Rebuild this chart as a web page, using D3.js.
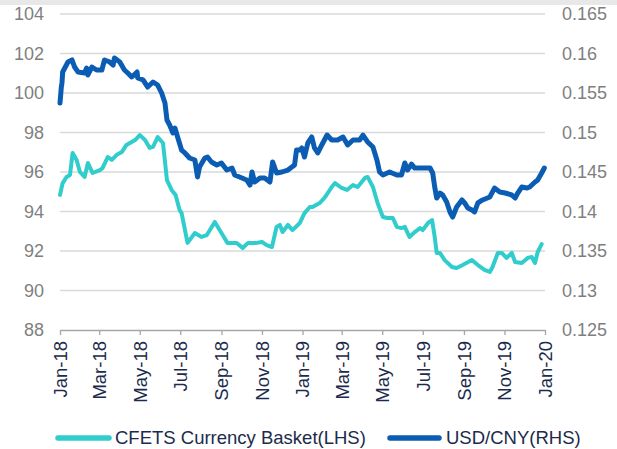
<!DOCTYPE html>
<html><head><meta charset="utf-8">
<script src="https://cdn.jsdelivr.net/npm/d3@7"></script>
<style>body{margin:0;background:#fff}svg{display:block}</style>
</head><body>
<svg id="c" width="617" height="449"></svg>
<script>
const leftTicks = [88, 90, 92, 94, 96, 98, 100, 102, 104];
const rightTicks = [0.125, 0.13, 0.135, 0.14, 0.145, 0.15, 0.155, 0.16, 0.165];
const seriesNames = ["CFETS Currency Basket(LHS)", "USD/CNY(RHS)"];

const cfetsDates = ["2018-01-01","2018-01-05","2018-01-11","2018-01-16","2018-01-20","2018-01-26","2018-01-31","2018-02-07","2018-02-12","2018-02-19","2018-03-02","2018-03-06","2018-03-14","2018-03-20","2018-03-27","2018-04-04","2018-04-11","2018-04-24","2018-05-01","2018-05-09","2018-05-16","2018-05-21","2018-05-28","2018-06-05","2018-06-11","2018-06-18","2018-06-24","2018-06-30","2018-07-03","2018-07-12","2018-07-23","2018-08-02","2018-08-10","2018-08-22","2018-09-01","2018-09-10","2018-09-24","2018-10-03","2018-10-11","2018-10-24","2018-11-01","2018-11-08","2018-11-16","2018-11-23","2018-11-28","2018-12-02","2018-12-10","2018-12-17","2018-12-28","2019-01-04","2019-01-12","2019-01-16","2019-01-27","2019-02-04","2019-02-14","2019-02-19","2019-03-01","2019-03-09","2019-03-18","2019-03-25","2019-04-05","2019-04-09","2019-04-17","2019-04-24","2019-05-02","2019-05-09","2019-05-17","2019-05-23","2019-05-30","2019-06-04","2019-06-11","2019-06-19","2019-06-27","2019-07-01","2019-07-09","2019-07-15","2019-07-19","2019-07-22","2019-07-27","2019-08-03","2019-08-14","2019-08-21","2019-08-30","2019-09-13","2019-09-22","2019-10-02","2019-10-10","2019-10-14","2019-10-22","2019-10-28","2019-11-04","2019-11-12","2019-11-17","2019-11-27","2019-12-06","2019-12-12","2019-12-17","2019-12-21","2019-12-27"];
const cfetsValues = [94.84,95.44,95.75,95.85,96.96,96.61,96.0,95.75,96.46,95.95,96.10,96.2,96.76,96.61,96.86,97.01,97.37,97.62,97.87,97.62,97.22,97.27,97.77,97.47,95.59,95.09,94.84,94.08,93.92,92.41,92.91,92.71,92.81,93.47,92.91,92.41,92.41,92.15,92.41,92.41,92.46,92.30,92.20,93.22,93.32,92.96,93.32,93.06,93.42,93.92,94.23,94.23,94.43,94.73,95.24,95.44,95.19,95.09,95.34,95.24,95.70,95.75,95.24,94.43,93.72,93.67,93.67,93.22,93.16,93.22,92.71,92.96,93.16,93.06,93.42,93.57,92.71,91.90,91.90,91.54,91.19,91.14,91.29,91.54,91.29,91.04,90.94,91.19,91.90,91.90,91.65,91.90,91.44,91.39,91.65,91.70,91.39,91.95,92.35];

const usdDates = ["2018-01-01","2018-01-03","2018-01-04","2018-01-05","2018-01-13","2018-01-19","2018-01-23","2018-01-28","2018-02-07","2018-02-10","2018-02-12","2018-02-18","2018-02-25","2018-03-05","2018-03-09","2018-03-17","2018-03-22","2018-03-24","2018-04-01","2018-04-08","2018-04-13","2018-04-19","2018-04-27","2018-04-28","2018-05-06","2018-05-13","2018-05-21","2018-05-28","2018-06-03","2018-06-08","2018-06-11","2018-06-15","2018-06-20","2018-06-23","2018-06-27","2018-07-03","2018-07-08","2018-07-15","2018-07-23","2018-07-27","2018-07-30","2018-08-07","2018-08-11","2018-08-17","2018-08-25","2018-09-01","2018-09-09","2018-09-17","2018-09-21","2018-10-02","2018-10-09","2018-10-14","2018-10-17","2018-10-21","2018-10-29","2018-11-05","2018-11-13","2018-11-17","2018-11-23","2018-12-01","2018-12-10","2018-12-16","2018-12-20","2018-12-23","2018-12-28","2018-12-31","2019-01-04","2019-01-09","2019-01-15","2019-01-19","2019-01-24","2019-01-30","2019-02-07","2019-02-14","2019-02-23","2019-03-03","2019-03-10","2019-03-18","2019-03-28","2019-04-02","2019-04-09","2019-04-17","2019-04-23","2019-04-27","2019-05-02","2019-05-12","2019-05-23","2019-05-30","2019-06-04","2019-06-08","2019-06-14","2019-06-19","2019-06-30","2019-07-12","2019-07-16","2019-07-19","2019-07-22","2019-07-27","2019-07-31","2019-08-06","2019-08-11","2019-08-15","2019-08-21","2019-08-29","2019-09-02","2019-09-07","2019-09-13","2019-09-17","2019-09-22","2019-09-29","2019-10-10","2019-10-17","2019-10-25","2019-11-02","2019-11-12","2019-11-17","2019-11-21","2019-11-27","2019-12-05","2019-12-09","2019-12-17","2019-12-21","2019-12-27","2019-12-31"];
const usdValues = [0.15373,0.15576,0.15627,0.15766,0.15892,0.15918,0.15829,0.15766,0.15753,0.15816,0.15728,0.15829,0.15791,0.15791,0.15918,0.15892,0.15854,0.15943,0.15892,0.15791,0.15753,0.15703,0.15766,0.1569,0.15665,0.15576,0.15639,0.15601,0.155,0.15373,0.15158,0.15095,0.14994,0.15057,0.14943,0.14778,0.14741,0.14677,0.14652,0.14437,0.14563,0.14677,0.1469,0.14627,0.14589,0.14614,0.14525,0.1455,0.14462,0.14424,0.14399,0.14335,0.145,0.14373,0.14424,0.14424,0.14373,0.14627,0.14487,0.145,0.14525,0.14563,0.14589,0.14778,0.14778,0.14804,0.1469,0.14867,0.14943,0.14804,0.14741,0.14842,0.14968,0.14905,0.14905,0.14943,0.14842,0.14905,0.14905,0.14968,0.1488,0.14816,0.14652,0.145,0.14462,0.145,0.14462,0.14462,0.14614,0.14525,0.14601,0.1455,0.1455,0.1455,0.14487,0.1431,0.14171,0.14234,0.14209,0.1412,0.13994,0.1393,0.14057,0.14146,0.14108,0.14044,0.14019,0.13994,0.14108,0.14146,0.14184,0.14297,0.14247,0.14234,0.14209,0.14171,0.14234,0.1431,0.14297,0.1431,0.14373,0.14399,0.14487,0.1455];

const parse = d3.timeParse("%Y-%m-%d");
const cfets = cfetsDates.map((d, i) => ({date: parse(d), value: cfetsValues[i]}));
const usd = usdDates.map((d, i) => ({date: parse(d), value: usdValues[i]}));

const svg = d3.select("#c");
const font = "'Liberation Sans', Arial, sans-serif";
const C1 = "#31cdcd", C2 = "#0b5db4";
const navy = "#1c2b4b", grey = "#7f7f7f";

svg.append("rect").attr("x",0).attr("y",0).attr("width",617).attr("height",5).attr("fill","#e8e8e8");

const x = d3.scaleTime().domain([parse("2018-01-01"), parse("2020-01-01")]).range([60, 545]);
const yL = d3.scaleLinear().domain([88, 104]).range([330, 14]);
const yR = d3.scaleLinear().domain([0.125, 0.165]).range([330, 14]);

// gridlines
svg.append("g").selectAll("line").data(leftTicks.filter(t => t > 88)).join("line")
  .attr("x1", 60).attr("x2", 545)
  .attr("y1", d => yL(d)).attr("y2", d => yL(d))
  .attr("stroke", "#d9d9d9").attr("stroke-width", 1.3);

// left axis labels
const gl = svg.append("g").attr("transform", "translate(44,0)")
  .call(d3.axisLeft(yL).tickValues(leftTicks).tickSize(0).tickPadding(0).tickFormat(d3.format("d")));
gl.select(".domain").remove();
gl.selectAll("text").attr("font-family", font).attr("font-size", 18).attr("fill", grey);

// right axis labels
const gr = svg.append("g").attr("transform", "translate(562,0)")
  .call(d3.axisRight(yR).tickValues(rightTicks).tickSize(0).tickPadding(0).tickFormat(d => String(+d.toFixed(3))));
gr.select(".domain").remove();
gr.selectAll("text").attr("font-family", font).attr("font-size", 18).attr("fill", grey);

// x axis
const xTicks = d3.timeMonth.every(2).range(parse("2018-01-01"), parse("2020-01-02"));
const gx = svg.append("g").attr("transform", "translate(0,330)")
  .call(d3.axisBottom(x).tickValues(xTicks).tickSize(5).tickSizeOuter(0).tickFormat(d3.timeFormat("%b-%y")));
gx.select(".domain").attr("stroke", "#a6a6a6").attr("stroke-width", 1.3);
gx.selectAll(".tick line").attr("stroke", "#a6a6a6").attr("stroke-width", 1.3);
gx.selectAll("text").attr("font-family", font).attr("font-size", 18.5).attr("fill", navy)
  .attr("transform", "rotate(-90)").attr("text-anchor", "end")
  .attr("x", -11).attr("y", 0).attr("dy", "0.35em");

// lines
const lineL = d3.line().x(d => x(d.date)).y(d => yL(d.value));
const lineR = d3.line().x(d => x(d.date)).y(d => yR(d.value));
svg.append("path").datum(cfets).attr("d", lineL).attr("fill", "none")
  .attr("stroke", C1).attr("stroke-width", 4).attr("stroke-linejoin", "round").attr("stroke-linecap", "round");
svg.append("path").datum(usd).attr("d", lineR).attr("fill", "none")
  .attr("stroke", C2).attr("stroke-width", 5).attr("stroke-linejoin", "round").attr("stroke-linecap", "round");

// legend
const leg = [{name: seriesNames[0], color: C1, x1: 58, x2: 109, tx: 115},
             {name: seriesNames[1], color: C2, x1: 390, x2: 439, tx: 446}];
const lg = svg.append("g");
leg.forEach(l => {
  lg.append("line").attr("x1", l.x1).attr("x2", l.x2).attr("y1", 438).attr("y2", 438)
    .attr("stroke", l.color).attr("stroke-width", 5.5).attr("stroke-linecap", "round");
  lg.append("text").attr("x", l.tx).attr("y", 438).attr("dy", "0.35em")
    .attr("font-family", font).attr("font-size", 18.5).attr("fill", navy).text(l.name);
});
</script>
</body></html>
